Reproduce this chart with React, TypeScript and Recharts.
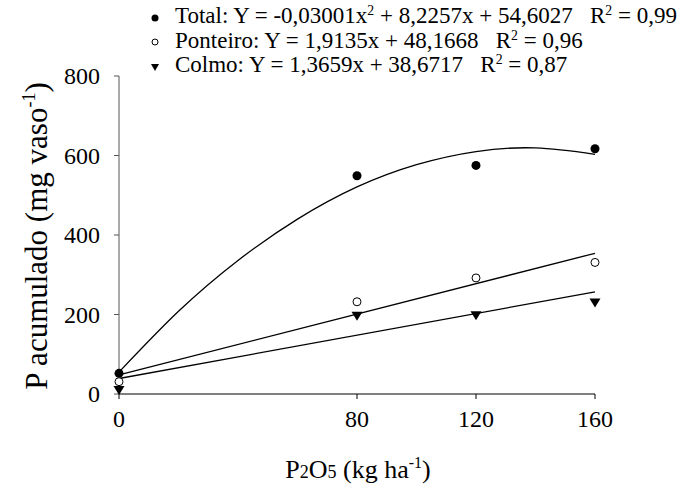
import {
  ComposedChart,
  Scatter,
  Line,
  XAxis,
  YAxis,
  Legend,
} from 'recharts'

// observed values (kg ha-1 of P2O5 vs P acumulado)
const doses = [0, 80, 120, 160]
const totalObs = [52, 549, 575, 617]
const ponteiroObs = [31, 232, 292, 331]
const colmoObs = [10, 197, 198, 230]

// fitted curves
const curveX = [0, 20, 40, 60, 80, 100, 120, 140, 160]
const totalFit = [55, 208, 336, 440, 521, 577, 610, 619, 603]
const lineX = [0, 160]
const ponteiroFit = [48, 354]
const colmoFit = [39, 257]

const xTicks = [0, 80, 120, 160]
const yTicks = [0, 200, 400, 600, 800]

const FONT = 'Liberation Serif, Times New Roman, serif'

const toPoints = (xs: number[], ys: number[]) => xs.map((x, i) => ({ x, y: ys[i] }))

const FilledDot = (props: any) => <circle cx={props.cx} cy={props.cy} r={4.5} fill="#000" />
const OpenDot = (props: any) => (
  <circle cx={props.cx} cy={props.cy} r={4} fill="#fff" stroke="#000" strokeWidth={1} />
)
const Triangle = (props: any) => {
  const { cx, cy } = props
  return <path d={`M${cx - 5.5},${cy - 4} L${cx + 5.5},${cy - 4} L${cx},${cy + 5} Z`} fill="#000" />
}

const XTick = (props: any) => {
  const { x, y, payload } = props
  return (
    <text x={x} y={y + 26} textAnchor="middle" fontFamily={FONT} fontSize={24} fill="#000">
      {payload.value}
    </text>
  )
}

const YTick = (props: any) => {
  const { x, y, payload } = props
  return (
    <text x={x - 12} y={y + 8} textAnchor="end" fontFamily={FONT} fontSize={24} fill="#000">
      {payload.value}
    </text>
  )
}

const supStyle = { fontSize: '0.6em', position: 'relative' as const, top: '-0.55em', lineHeight: 0 }

const legendRows = [
  {
    marker: 'filled',
    text: (
      <>
        Total: Y = -0,03001x<span style={supStyle}>2</span> + 8,2257x + 54,6027&nbsp;&nbsp; R
        <span style={supStyle}>2</span> = 0,99
      </>
    ),
  },
  {
    marker: 'open',
    text: (
      <>
        Ponteiro: Y = 1,9135x + 48,1668&nbsp;&nbsp; R<span style={supStyle}>2</span> = 0,96
      </>
    ),
  },
  {
    marker: 'tri',
    text: (
      <>
        Colmo: Y = 1,3659x + 38,6717&nbsp;&nbsp; R<span style={supStyle}>2</span> = 0,87
      </>
    ),
  },
]

const LegendMarker = ({ kind }: { kind: string }) => (
  <svg width={14} height={14} style={{ display: 'inline-block', verticalAlign: 'middle' }}>
    {kind === 'filled' && <circle cx={7} cy={7} r={3.5} fill="#000" />}
    {kind === 'open' && <circle cx={7} cy={7} r={3} fill="#fff" stroke="#000" />}
    {kind === 'tri' && <path d="M3,4 L11,4 L7,11 Z" fill="#000" />}
  </svg>
)

const renderLegend = () => (
  <div style={{ fontFamily: FONT, fontSize: 23, lineHeight: '25px', color: '#000' }}>
    {legendRows.map((r, i) => (
      <div key={i} style={{ whiteSpace: 'nowrap', height: 24.5 }}>
        <LegendMarker kind={r.marker} />
        <span style={{ marginLeft: 13 }}>{r.text}</span>
      </div>
    ))}
  </div>
)

export default function App() {
  return (
    <div
      style={{
        position: 'absolute',
        left: 0,
        top: 0,
        width: 683,
        height: 492,
        background: '#fff',
        fontFamily: FONT,
      }}
    >
      <ComposedChart
        width={683}
        height={492}
        margin={{ top: 76, right: 88, bottom: 38, left: 0 }}
      >
        <XAxis
          dataKey="x"
          type="number"
          domain={[0, 160]}
          ticks={xTicks}
          tickSize={5}
          height={60}
          stroke="#000"
          tick={<XTick />}
        />
        <YAxis
          type="number"
          domain={[0, 800]}
          ticks={yTicks}
          width={119}
          tickSize={5}
          stroke="#555"
          tick={<YTick />}
        />
        <Legend
          layout="horizontal"
          verticalAlign="middle"
          content={renderLegend}
          wrapperStyle={{ top: 3, left: 148, width: 540 }}
        />
        <Line data={toPoints(curveX, totalFit)} dataKey="y" type="natural" stroke="#000" strokeWidth={1.3} dot={false} isAnimationActive={false} legendType="none" />
        <Line data={toPoints(lineX, ponteiroFit)} dataKey="y" type="linear" stroke="#000" strokeWidth={1.3} dot={false} isAnimationActive={false} legendType="none" />
        <Line data={toPoints(lineX, colmoFit)} dataKey="y" type="linear" stroke="#000" strokeWidth={1.3} dot={false} isAnimationActive={false} legendType="none" />
        <Scatter data={toPoints(doses, totalObs)} dataKey="y" shape={FilledDot} isAnimationActive={false} legendType="none" />
        <Scatter data={toPoints(doses, ponteiroObs)} dataKey="y" shape={OpenDot} isAnimationActive={false} legendType="none" />
        <Scatter data={toPoints(doses, colmoObs)} dataKey="y" shape={Triangle} isAnimationActive={false} legendType="none" />
        <text
          x={47}
          y={236}
          transform="rotate(-90, 47, 236)"
          textAnchor="middle"
          fontFamily={FONT}
          fontSize={31}
          fill="#000"
        >
          P acumulado (mg vaso<tspan dy={-12} fontSize={18}>-1</tspan>
          <tspan dy={12}>)</tspan>
        </text>
        <text x={358} y={478} textAnchor="middle" fontFamily={FONT} fontSize={26} fill="#000">
          P<tspan fontSize={18}>2</tspan>O<tspan fontSize={18}>5</tspan> (kg ha
          <tspan dy={-10} fontSize={16}>-1</tspan>
          <tspan dy={10}>)</tspan>
        </text>
      </ComposedChart>
    </div>
  )
}
